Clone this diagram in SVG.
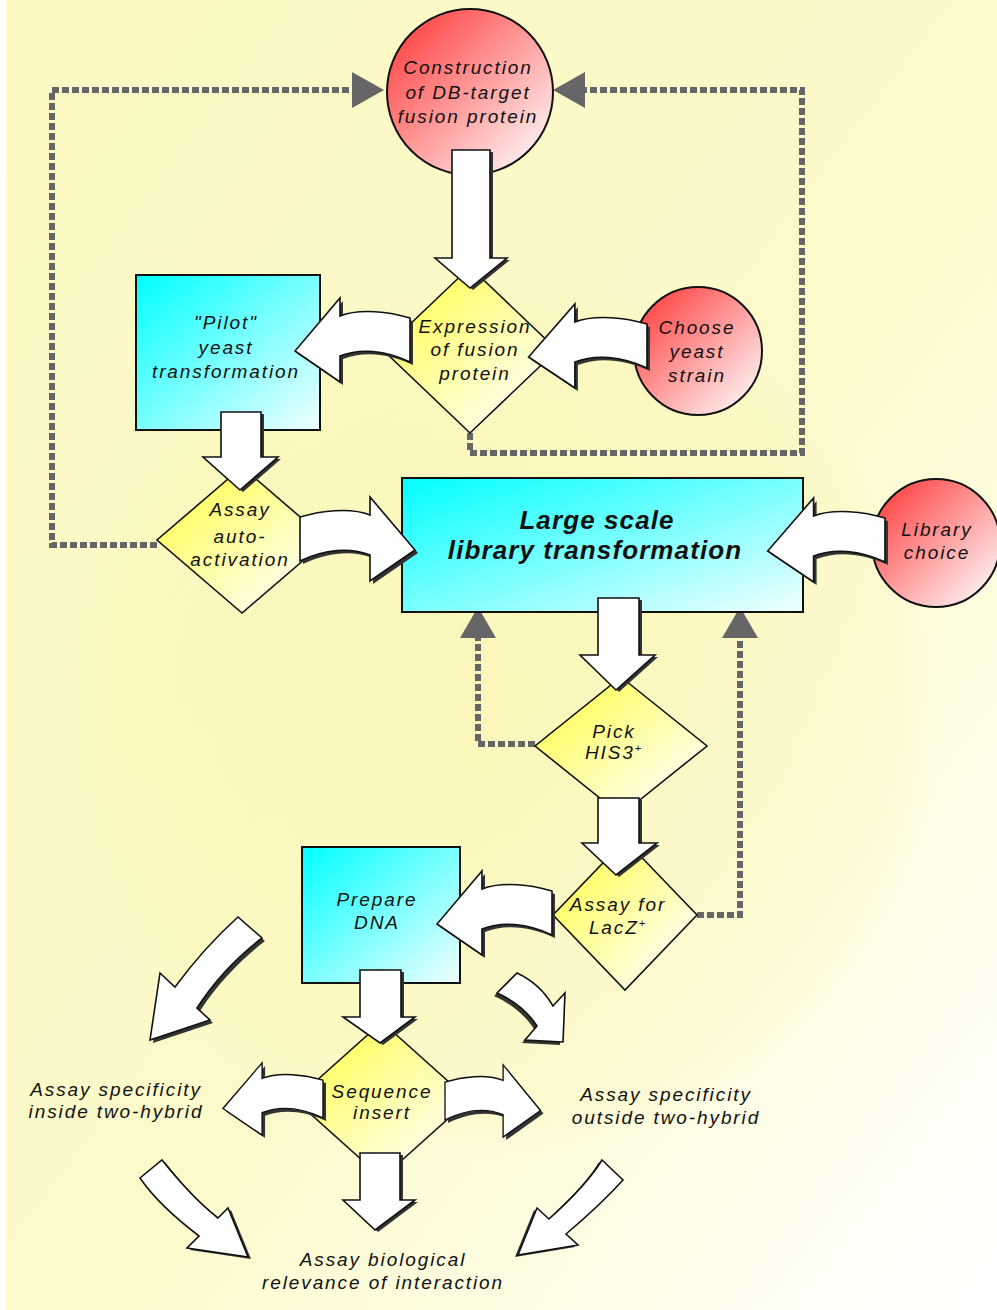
<svg xmlns="http://www.w3.org/2000/svg" xmlns:xlink="http://www.w3.org/1999/xlink" width="997" height="1310" viewBox="0 0 997 1310">
<style>
.t{font-family:"Liberation Sans",Arial,sans-serif;font-style:italic;font-size:19px;letter-spacing:1.9px;fill:#111;text-anchor:middle}
.tb{font-family:"Liberation Sans",Arial,sans-serif;font-style:italic;font-weight:bold;font-size:26px;letter-spacing:1.1px;fill:#111;text-anchor:middle}
.box{stroke:#111;stroke-width:2;fill:url(#gc)}
.cir{stroke:#111;stroke-width:2;fill:url(#gr)}
.dia{stroke:#111;stroke-width:1.6;fill:url(#gy)}
.ar{fill:#fff;stroke:#111;stroke-width:1.6;stroke-linejoin:miter}
.sh{fill:#333;stroke:none}
.dl{fill:none;stroke:#666;stroke-width:6;stroke-dasharray:7 3}
.ah{fill:#666}
</style>
<defs>
<linearGradient id="bg" x1="0" y1="0" x2="1" y2="1">
<stop offset="0" stop-color="#fbf8c2"/>
<stop offset="0.55" stop-color="#fcfacb"/>
<stop offset="1" stop-color="#ffffff"/>
</linearGradient>
<radialGradient id="glow" cx="500" cy="720" r="440" gradientUnits="userSpaceOnUse">
<stop offset="0" stop-color="#f8f2a4" stop-opacity="0.4"/>
<stop offset="0.9" stop-color="#f8f2a4" stop-opacity="0.2"/>
<stop offset="1" stop-color="#f8f2a4" stop-opacity="0"/>
</radialGradient>
<linearGradient id="gc" x1="0" y1="0" x2="1" y2="1">
<stop offset="0" stop-color="#00ffff"/>
<stop offset="1" stop-color="#f2ffff"/>
</linearGradient>
<linearGradient id="gr" x1="0.15" y1="0.15" x2="0.85" y2="0.85">
<stop offset="0" stop-color="#ff5050"/>
<stop offset="1" stop-color="#ffe6e6"/>
</linearGradient>
<linearGradient id="gy" x1="0.2" y1="0.2" x2="0.8" y2="0.8">
<stop offset="0" stop-color="#ffff66"/>
<stop offset="1" stop-color="#fffde6"/>
</linearGradient>
<path id="cr" d="M0,-22 C20,-28 50,-32 70,-24 L70,-42 L115,11 L70,42 L70,16 C50,8 25,10 0,22 Z"/>
</defs>

<rect width="997" height="1310" fill="url(#bg)"/>
<circle cx="500" cy="720" r="440" fill="url(#glow)"/>
<rect width="6" height="1310" fill="#ffffff"/>

<g id="connectors">
<path class="dl" d="M157,545 H52 V90 H352"/>
<polygon class="ah" points="352,72 384,90 352,108"/>
<path class="dl" d="M470,433 V453 H802 V90 H585"/>
<polygon class="ah" points="585,72 553,90 585,108"/>
<path class="dl" d="M535,744 H478 V638"/>
<polygon class="ah" points="460,638 478,607 496,638"/>
<path class="dl" d="M697,915 H740 V638"/>
<polygon class="ah" points="722,638 740,607 758,638"/>
</g>

<g id="n-construction">
<circle class="cir" cx="470" cy="92" r="83"/>
<text class="t" x="468" y="74">Construction</text>
<text class="t" x="468" y="99">of DB-target</text>
<text class="t" x="468" y="123">fusion protein</text>
</g>

<g id="n-expression">
<polygon class="dia" points="470,267 557,350 470,433 383,350"/>
<text class="t" x="475" y="333">Expression</text>
<text class="t" x="475" y="356">of fusion</text>
<text class="t" x="475" y="380">protein</text>
</g>

<g id="n-choose">
<circle class="cir" cx="698" cy="351" r="64"/>
<text class="t" x="697" y="334">Choose</text>
<text class="t" x="697" y="358">yeast</text>
<text class="t" x="697" y="382">strain</text>
</g>

<g id="n-pilot">
<rect class="box" x="136" y="275" width="184" height="155"/>
<text class="t" x="226" y="329">"Pilot"</text>
<text class="t" x="226" y="354">yeast</text>
<text class="t" x="226" y="378">transformation</text>
</g>

<g id="n-auto">
<polygon class="dia" points="242,467 327,540 242,613 157,540"/>
<text class="t" x="240" y="516">Assay</text>
<text class="t" x="240" y="543">auto-</text>
<text class="t" x="240" y="566">activation</text>
</g>

<g id="n-large">
<rect class="box" x="402" y="478" width="401" height="134"/>
<text class="tb" x="597" y="529">Large scale</text>
<text class="tb" x="595" y="559">library transformation</text>
</g>

<g id="n-library">
<circle class="cir" cx="936" cy="543" r="64"/>
<text class="t" x="937" y="536">Library</text>
<text class="t" x="937" y="559">choice</text>
</g>

<g id="n-pick">
<polygon class="dia" points="621,677 707,746 621,815 535,746"/>
<text class="t" x="614" y="738">Pick</text>
<text class="t" x="614" y="759">HIS3<tspan font-size="11" dy="-7">+</tspan></text>
</g>

<g id="n-lacz">
<polygon class="dia" points="625,840 697,915 625,990 553,915"/>
<text class="t" x="618" y="911">Assay for</text>
<text class="t" x="618" y="934">LacZ<tspan font-size="11" dy="-7">+</tspan></text>
</g>

<g id="n-prepare">
<rect class="box" x="302" y="847" width="158" height="136"/>
<text class="t" x="377" y="906">Prepare</text>
<text class="t" x="377" y="929">DNA</text>
</g>

<g id="n-sequence">
<polygon class="dia" points="382,1022 469,1100 382,1178 295,1100"/>
<text class="t" x="382" y="1098">Sequence</text>
<text class="t" x="382" y="1119">insert</text>
</g>

<g id="n-inside">
<text class="t" x="116" y="1096">Assay specificity</text>
<text class="t" x="116" y="1118">inside two-hybrid</text>
</g>

<g id="n-outside">
<text class="t" x="666" y="1101">Assay specificity</text>
<text class="t" x="666" y="1124">outside two-hybrid</text>
</g>

<g id="n-biological">
<text class="t" x="383" y="1266">Assay biological</text>
<text class="t" x="383" y="1289">relevance of interaction</text>
</g>

<g id="block-arrows">
<path class="sh" d="M455,152 H493 V260 H510 L473,290 L438,260 H455 Z"/>
<path class="ar" d="M452,150 H490 V258 H507 L470,288 L435,258 H452 Z"/>
<path class="sh" d="M224,414 H264 V459 H281 L243,492 L206,459 H224 Z"/>
<path class="ar" d="M221,412 H261 V457 H278 L240,490 L203,457 H221 Z"/>
<path class="sh" d="M601,600 H642 V657 H658 L619,692 L583,657 H601 Z"/>
<path class="ar" d="M598,598 H639 V655 H655 L616,690 L580,655 H598 Z"/>
<path class="sh" d="M601,800 H642 V845 H660 L619,877 L585,845 H601 Z"/>
<path class="ar" d="M598,798 H639 V843 H657 L616,875 L582,843 H598 Z"/>
<path class="sh" d="M363,972 H404 V1019 H418 L383,1045 L346,1019 H363 Z"/>
<path class="ar" d="M360,970 H401 V1017 H415 L380,1043 L343,1017 H360 Z"/>
<path class="sh" d="M363,1155 H403 V1202 H418 L378,1232 L346,1202 H363 Z"/>
<path class="ar" d="M360,1153 H400 V1200 H415 L375,1230 L343,1200 H360 Z"/>

<use xlink:href="#cr" href="#cr" class="sh" transform="translate(413,343) scale(-1,1)"/>
<use xlink:href="#cr" href="#cr" class="ar" transform="translate(410,340) scale(-1,1)"/>
<use xlink:href="#cr" href="#cr" class="sh" transform="translate(650,349) scale(-1.03,1)"/>
<use xlink:href="#cr" href="#cr" class="ar" transform="translate(647,346) scale(-1.03,1)"/>
<use xlink:href="#cr" href="#cr" class="sh" transform="translate(303,542)"/>
<use xlink:href="#cr" href="#cr" class="ar" transform="translate(300,539)"/>
<use xlink:href="#cr" href="#cr" class="sh" transform="translate(888,543) scale(-1.02,1)"/>
<use xlink:href="#cr" href="#cr" class="ar" transform="translate(885,540) scale(-1.02,1)"/>
<use xlink:href="#cr" href="#cr" class="sh" transform="translate(555,916) scale(-1,1)"/>
<use xlink:href="#cr" href="#cr" class="ar" transform="translate(552,913) scale(-1,1)"/>
<use xlink:href="#cr" href="#cr" class="sh" transform="translate(326,1102) scale(-0.87,0.86)"/>
<use xlink:href="#cr" href="#cr" class="ar" transform="translate(323,1099) scale(-0.87,0.86)"/>
<use xlink:href="#cr" href="#cr" class="sh" transform="translate(448,1104) scale(0.83,0.86)"/>
<use xlink:href="#cr" href="#cr" class="ar" transform="translate(445,1101) scale(0.83,0.86)"/>

<path class="sh" transform="translate(3,3)" d="M238,917 C218,935 195,960 175,987 L160,973 L150,1040 L210,1020 L197,1008 C215,980 240,955 262,938 Z"/>
<path class="ar" d="M238,917 C218,935 195,960 175,987 L160,973 L150,1040 L210,1020 L197,1008 C215,980 240,955 262,938 Z"/>
<path class="sh" transform="translate(-3,3)" d="M497,993 L517,973 C532,980 545,992 553,1006 L565,993 L563,1042 L525,1040 L537,1026 C528,1012 513,1000 497,993 Z"/>
<path class="ar" d="M497,993 L517,973 C532,980 545,992 553,1006 L565,993 L563,1042 L525,1040 L537,1026 C528,1012 513,1000 497,993 Z"/>
<path class="sh" transform="translate(3,2)" d="M140,1178 L162,1160 C178,1180 195,1200 218,1218 L228,1208 L248,1257 L187,1248 L199,1236 C178,1220 155,1200 140,1178 Z"/>
<path class="ar" d="M140,1178 L162,1160 C178,1180 195,1200 218,1218 L228,1208 L248,1257 L187,1248 L199,1236 C178,1220 155,1200 140,1178 Z"/>
<path class="sh" transform="translate(-3,2)" d="M602,1160 L623,1180 C605,1200 585,1218 566,1234 L578,1245 L518,1255 L537,1208 L549,1219 C570,1200 590,1180 602,1160 Z"/>
<path class="ar" d="M602,1160 L623,1180 C605,1200 585,1218 566,1234 L578,1245 L518,1255 L537,1208 L549,1219 C570,1200 590,1180 602,1160 Z"/>
</g>
</svg>
